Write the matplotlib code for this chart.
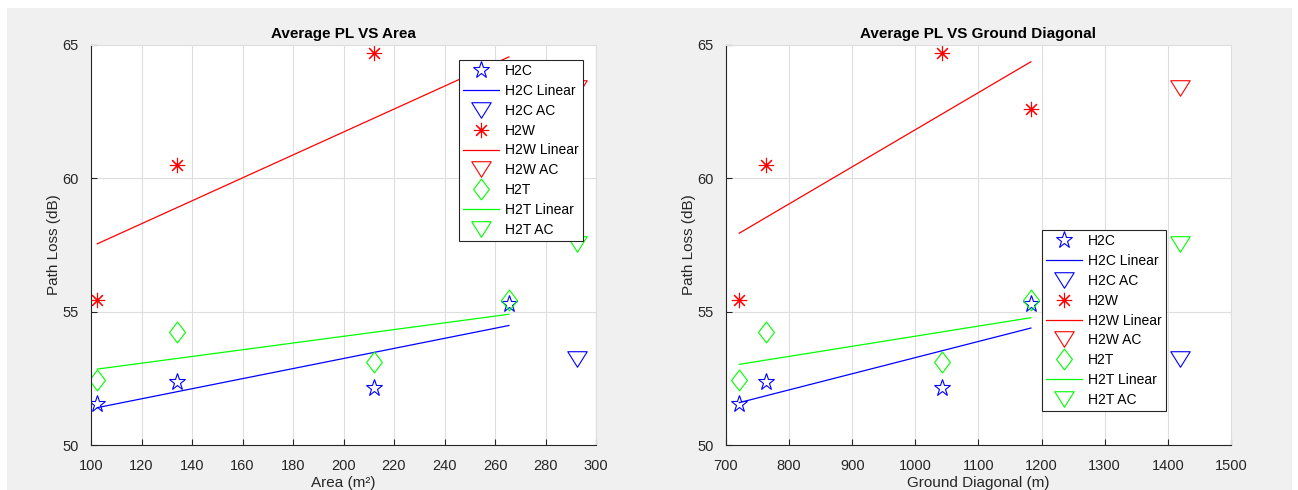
import numpy as np
import matplotlib
matplotlib.use('Agg')
import matplotlib.pyplot as plt
from matplotlib.patches import Rectangle
from matplotlib.path import Path

plt.rcParams['font.family'] = ['Liberation Sans', 'DejaVu Sans']

# data
area = [102.5, 134, 212, 265.5]
diag = [721, 763, 1042, 1183]
area_ac = [292.5]
diag_ac = [1420]

h2c = [51.55, 52.35, 52.15, 55.3]
h2w = [55.45, 60.5, 64.7, 62.6]
h2t = [52.42, 54.22, 53.13, 55.45]
h2c_ac = [53.22]
h2w_ac = [63.4]
h2t_ac = [57.55]

# matlab-ish markers
tri = Path([(-1, 0.8), (1, 0.8), (0, -0.8), (-1, 0.8)], closed=True)
dia = Path([(0, 1), (0.76, 0), (0, -1), (-0.76, 0), (0, 1)], closed=True)
ast = (8, 2, 0)

series = [('H2C', 'b', h2c, h2c_ac, '*', 12.5),
          ('H2W', 'r', h2w, h2w_ac, ast, 11),
          ('H2T', 'lime', h2t, h2t_ac, dia, 15)]

fig = plt.figure(figsize=(12.98, 4.9), dpi=100, facecolor='#f0f0f0')
# white screenshot border
for r in [(0, 1 - 8 / 490, 1, 8 / 490), (0, 0, 7 / 1298, 1), (1292 / 1298, 0, 1, 1)]:
    fig.add_artist(Rectangle(r[:2], r[2], r[3], transform=fig.transFigure,
                             facecolor='white', edgecolor='none', zorder=0))

panels = [(91, area, area_ac, 'Average PL VS Area', 'Area (m²)', (100, 300), np.arange(100, 301, 20), (0.729, 0.9625)),
          (726, diag, diag_ac, 'Average PL VS Ground Diagonal', 'Ground Diagonal (m)', (700, 1500), np.arange(700, 1501, 100), (0.626, 0.5375))]

for left, xs, xs_ac, title, xlabel, xlim, xt, anchor in panels:
    ax = fig.add_axes([left / 1298, 1 - 445 / 490, 505 / 1298, 400 / 490])
    for name, c, ys, ys_ac, m, ms in series:
        ax.plot(xs, ys, linestyle='none', marker=m, ms=ms, mfc='none', mec=c, mew=0.8, label=name)
        k, b = np.polyfit(xs, ys, 1)
        xx = np.array([xs[0], xs[-1]])
        ax.plot(xx, k * xx + b, color=c, lw=0.9, label=name + ' Linear')
        ax.plot(xs_ac, ys_ac, linestyle='none', marker=tri, ms=14, mfc='none', mec=c, mew=0.8,
                label=name + ' AC')
    ax.set_xlim(*xlim)
    ax.set_ylim(50, 65)
    ax.set_xticks(xt)
    ax.set_yticks([50, 55, 60, 65])
    ax.grid(True, color='#dedede', lw=0.8)
    ax.set_axisbelow(True)
    for s in ['top', 'right']:
        ax.spines[s].set_color('#dedede')
    for s in ['left', 'bottom']:
        ax.spines[s].set_color('#262626')
    ax.tick_params(direction='in', labelsize=10.5, colors='#262626', length=4,
                   top=False, right=False)
    ax.tick_params(axis='x', pad=10)
    ax.tick_params(axis='y', pad=9)
    ax.set_title(title, fontsize=11, fontweight='bold', pad=5)
    ax.set_xlabel(xlabel, fontsize=11, color='#262626', labelpad=2)
    ax.set_ylabel('Path Loss (dB)', fontsize=11, color='#262626', labelpad=1)
    leg = ax.legend(loc='upper left', bbox_to_anchor=anchor, fontsize=10, fancybox=False,
                    framealpha=1, edgecolor='#262626', handlelength=2.6, labelspacing=0.42,
                    borderpad=0.3, handletextpad=0.4, borderaxespad=0)
    leg.get_frame().set_linewidth(0.8)

fig.savefig('out.png', dpi=100, facecolor=fig.get_facecolor())
